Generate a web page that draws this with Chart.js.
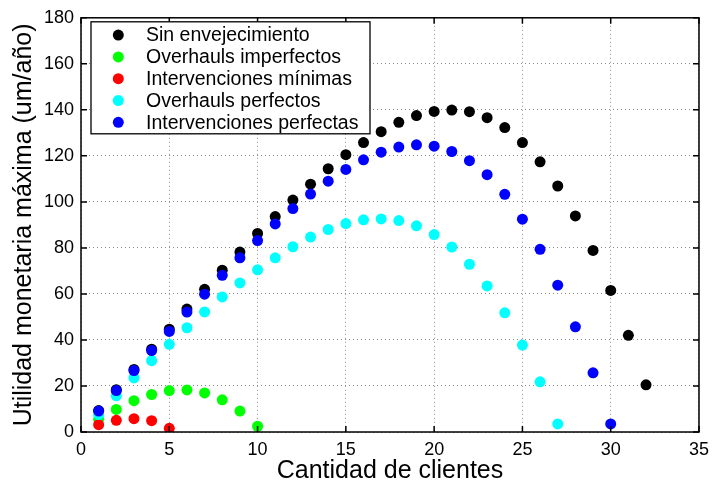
<!DOCTYPE html>
<html><head><meta charset="utf-8">
<script src="https://cdn.jsdelivr.net/npm/chart.js@4/dist/chart.umd.min.js"></script>
<style>html,body{margin:0;padding:0;background:#fff}#wrap{width:716px;height:484px}</style>
</head><body><div id="wrap"><canvas id="c" width="716" height="484"></canvas></div>
<script>
// ---- data ----
const clientes = [1,2,3,4,5,6,7,8,9,10,11,12,13,14,15,16,17,18,19,20,21,22,23,24,25,26,27,28,29,30,31,32];
const sinEnvejecimiento = [9.3,18.4,27.2,36.0,44.7,53.4,62.0,70.3,78.2,86.3,93.6,100.8,107.7,114.4,120.5,125.8,130.5,134.6,137.5,139.3,139.9,139.2,136.6,132.3,125.8,117.4,106.9,93.9,78.9,61.5,42.0,20.5];
const overhaulsImperfectos = [5.5,9.8,13.6,16.3,18.0,18.3,17.0,14.0,9.1,2.5];
const intervencionesMinimas = [3.2,5.1,5.8,4.9,1.6];
const overhaulsPerfectos = [7.6,15.7,23.5,31.0,38.1,45.3,52.2,58.7,64.8,70.5,75.7,80.5,84.7,88.0,90.6,92.2,92.6,91.9,89.6,85.8,80.4,72.9,63.5,51.8,37.8,21.8,3.5];
const intervencionesPerfectas = [9.1,18.0,26.7,35.4,43.7,52.1,59.9,68.1,75.7,83.2,90.4,97.1,103.4,109.0,114.1,118.3,121.6,123.8,124.8,124.2,121.9,117.9,111.8,103.3,92.5,79.4,63.8,45.7,25.7,3.5];
const seriesNames = ['Sin envejecimiento','Overhauls imperfectos','Intervenciones mínimas','Overhauls perfectos','Intervenciones perfectas'];
const xTickValues = [0,5,10,15,20,25,30,35];
const yTickValues = [0,20,40,60,80,100,120,140,160,180];
const xTitle = 'Cantidad de clientes';
const yTitle = 'Utilidad monetaria máxima (um/año)';

// ---- styles ----
const FONT = '"Liberation Sans", Arial, Helvetica, sans-serif';
const colors = ['#000000','#00ff00','#ff0000','#00ffff','#0000ff'];
const seriesValues = [sinEnvejecimiento, overhaulsImperfectos, intervencionesMinimas, overhaulsPerfectos, intervencionesPerfectas];

const datasets = seriesValues.map((vals, i) => ({
  label: seriesNames[i],
  data: vals.map((v, k) => ({x: clientes[k], y: v})),
  backgroundColor: colors[i],
  borderColor: colors[i],
  pointRadius: 5.5,
  pointBorderWidth: 0,
  pointHoverRadius: 5.5,
  showLine: false,
  order: seriesValues.length - i
}));

const frame = {
  id: 'frame',
  afterDraw(chart) {
    const {ctx, chartArea: a, scales: {x, y}} = chart;
    ctx.save();
    ctx.strokeStyle = '#000';
    ctx.lineWidth = 1.5;
    ctx.beginPath();
    xTickValues.forEach(v => {
      const px = x.getPixelForValue(v);
      ctx.moveTo(px, a.bottom); ctx.lineTo(px, a.bottom - 6);
      ctx.moveTo(px, a.top); ctx.lineTo(px, a.top + 6);
    });
    yTickValues.forEach(v => {
      const py = y.getPixelForValue(v);
      ctx.moveTo(a.left, py); ctx.lineTo(a.left + 6, py);
      ctx.moveTo(a.right, py); ctx.lineTo(a.right - 6, py);
    });
    ctx.stroke();
    ctx.strokeRect(a.left, a.top, a.right - a.left, a.bottom - a.top);

    // legend
    const lx = a.left + 10, ly = a.top + 4, lw = 279, lh = 112;
    ctx.fillStyle = '#fff';
    ctx.fillRect(lx, ly, lw, lh);
    ctx.lineWidth = 1.3;
    ctx.strokeRect(lx, ly, lw, lh);
    ctx.font = '19.5px ' + FONT;
    ctx.textBaseline = 'middle';
    ctx.textAlign = 'left';
    seriesNames.forEach((name, i) => {
      const ry = ly + 13.3 + i * 21.8;
      ctx.fillStyle = colors[i];
      ctx.beginPath();
      ctx.arc(lx + 27.3, ry, 5.5, 0, Math.PI * 2);
      ctx.fill();
      ctx.fillStyle = '#000';
      ctx.fillText(name, lx + 55, ry + 1);
    });
    ctx.restore();
  }
};

new Chart(document.getElementById('c'), {
  type: 'scatter',
  data: {datasets},
  plugins: [frame],
  options: {
    responsive: false,
    animation: false,
    devicePixelRatio: 1,
    layout: {padding: {top: 16, right: 11, left: 0, bottom: 0}},
    plugins: {legend: {display: false}, tooltip: {enabled: false}},
    scales: {
      x: {
        type: 'linear', min: 0, max: 35,
        afterBuildTicks: s => { s.ticks = xTickValues.map(v => ({value: v})); },
        afterFit: s => { s.height = 52; },
        grid: {color: '#8a8a8a', lineWidth: 1, drawTicks: false},
        border: {display: false, dash: [1, 3]},
        ticks: {font: {family: FONT, size: 18}, color: '#000', padding: 7, maxRotation: 0, autoSkip: false},
        title: {display: true, text: xTitle, color: '#000', font: {family: FONT, size: 25, lineHeight: 1}, padding: {top: 0, bottom: 0}}
      },
      y: {
        type: 'linear', min: 0, max: 180,
        afterBuildTicks: s => { s.ticks = yTickValues.map(v => ({value: v})); },
        afterFit: s => { s.width = 81; },
        grid: {color: '#8a8a8a', lineWidth: 1, drawTicks: false},
        border: {display: false, dash: [1, 3]},
        ticks: {font: {family: FONT, size: 18}, color: '#000', padding: 7, autoSkip: false},
        title: {display: true, text: yTitle, color: '#000', font: {family: FONT, size: 25, lineHeight: 1}, padding: {top: 12, bottom: 0}}
      }
    }
  }
});
</script>
</body></html>
